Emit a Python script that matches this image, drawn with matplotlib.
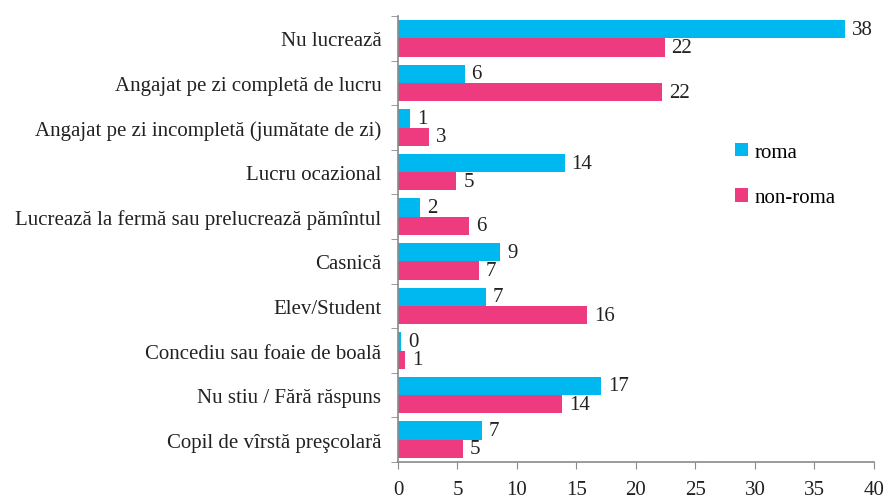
import numpy as np
import matplotlib
matplotlib.use("Agg")
import matplotlib.pyplot as plt
from matplotlib.ticker import FixedLocator

categories = [
    "Nu lucrează",
    "Angajat pe zi completă de lucru",
    "Angajat pe zi incompletă (jumătate de zi)",
    "Lucru ocazional",
    "Lucrează la fermă sau prelucrează pămîntul",
    "Casnică",
    "Elev/Student",
    "Concediu sau foaie de boală",
    "Nu stiu / Fără răspuns",
    "Copil de vîrstă preşcolară",
]
roma = [37.6, 5.6, 1.0, 14.0, 1.85, 8.6, 7.4, 0.25, 17.1, 7.06]
non_roma = [22.4, 22.2, 2.6, 4.9, 6.0, 6.8, 15.9, 0.6, 13.8, 5.46]
x_ticks = [0, 5, 10, 15, 20, 25, 30, 35, 40]

c_roma = "#00B8F0"
c_non = "#EE3A7E"
axis_col = "#8a8a8a"
fs = 15

plt.rcParams["font.family"] = ["Liberation Serif", "DejaVu Serif"]

fig = plt.figure(figsize=(8.87, 5.02), dpi=100)
ax = fig.add_axes([0.4487, 0.0777, 0.5366, 0.8883])

y = np.arange(len(categories))
h = 0.41
b1 = ax.barh(y - h / 2, roma, height=h, color=c_roma, label="roma")
b2 = ax.barh(y + h / 2, non_roma, height=h, color=c_non, label="non-roma")

for bars in (b1, b2):
    ax.bar_label(bars, labels=[f"{round(v):d}" for v in bars.datavalues],
                 padding=5, fontsize=fs, color="#222222")

ax.set_xlim(0, 40)
ax.set_ylim(len(categories) - 0.5, -0.5)
ax.set_xticks(x_ticks)
ax.set_yticks(y)
ax.set_yticklabels(categories)
ax.yaxis.set_minor_locator(FixedLocator(np.arange(-0.5, len(categories), 1)))

ax.tick_params(axis="y", which="major", length=0, pad=12, labelsize=fs, labelcolor="#222222")
ax.tick_params(axis="y", which="minor", length=5, color=axis_col, direction="out")
ax.tick_params(axis="x", length=5, color=axis_col, labelsize=fs, labelcolor="#222222", pad=8)

for s in ("top", "right"):
    ax.spines[s].set_visible(False)
for s in ("left", "bottom"):
    ax.spines[s].set_color(axis_col)
    ax.spines[s].set_linewidth(1.2)

ax.legend(loc="upper left", bbox_to_anchor=(0.69, 0.735), frameon=False,
          fontsize=fs, handlelength=0.65, handleheight=0.65, handletextpad=0.3,
          labelspacing=1.25, borderaxespad=0)

fig.savefig("out.png", dpi=100)
